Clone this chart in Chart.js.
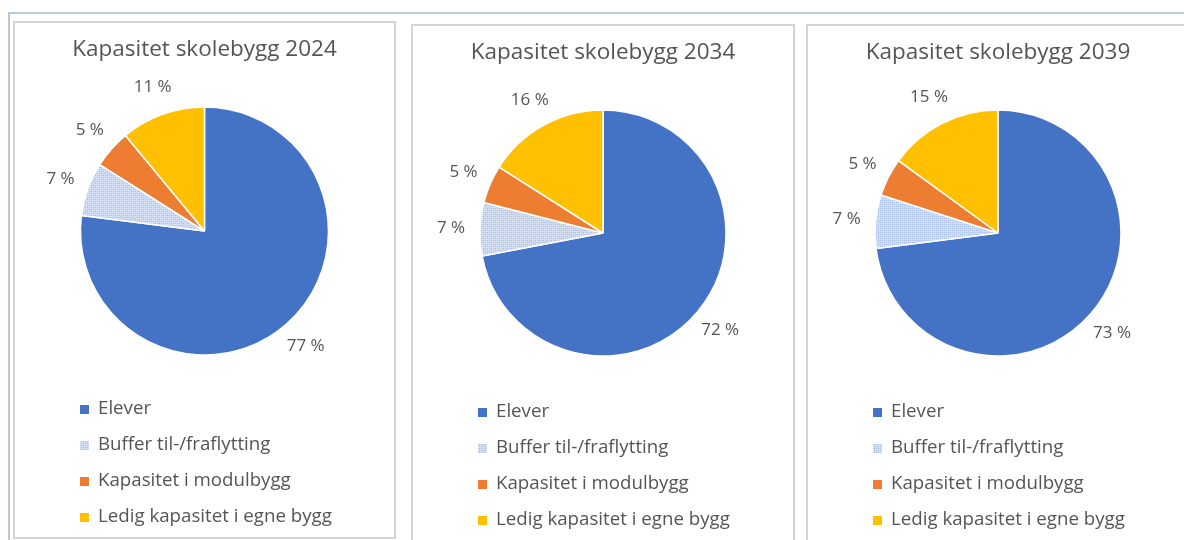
<!DOCTYPE html>
<html>
<head>
<meta charset="utf-8">
<script src="https://cdn.jsdelivr.net/npm/chart.js@4.4.1/dist/chart.umd.min.js"></script>
<style>
  body { margin: 0; width: 1184px; height: 540px; overflow: hidden; background: #fff; position: relative; }
  .frame { position: absolute; left: 8px; top: 12px; width: 1200px; height: 560px; border-top: 2px solid #b7c8dd; border-left: 2px solid #b7c8dd; }
  .panel { position: absolute; border: 2px solid #d4d4d4; background: #fff; }
  .panel canvas { display: block; }
</style>
</head>
<body>
<div class="frame"></div>
<div class="panel" style="left:13px; top:21px; width:379px; height:514px;"><canvas id="chart2024"></canvas></div>
<div class="panel" style="left:411px; top:24px; width:380px; height:514px;"><canvas id="chart2034"></canvas></div>
<div class="panel" style="left:806px; top:24px; width:380px; height:514px;"><canvas id="chart2039"></canvas></div>

<script>
// categories
const categories = ['Elever', 'Buffer til-/fraflytting', 'Kapasitet i modulbygg', 'Ledig kapasitet i egne bygg'];

// share of capacity in percent, per year
const values2024 = [77, 7, 5, 11];
const values2034 = [72, 7, 5, 16];
const values2039 = [73, 7, 5, 15];

const titles = ['Kapasitet skolebygg 2024', 'Kapasitet skolebygg 2034', 'Kapasitet skolebygg 2039'];

const textColor = '#555555';
const fontFamily = '"Open Sans", "Liberation Sans", sans-serif';

// dotted light blue fill for the buffer slice
function makeDots() {
  const c = document.createElement('canvas');
  c.width = 4; c.height = 4;
  const g = c.getContext('2d');
  g.fillStyle = '#d3def2';
  g.fillRect(0, 0, 4, 4);
  g.fillStyle = '#9db4e0';
  g.fillRect(0, 0, 1, 1);
  g.fillRect(2, 2, 1, 1);
  g.fillStyle = '#b9cbec';
  g.fillRect(2, 0, 1, 1);
  g.fillRect(0, 2, 1, 1);
  return g.createPattern(c, 'repeat');
}
const dots = makeDots();
const sliceColors = ['#4472c4', dots, '#ed7d31', '#ffc000'];

// percent labels outside each slice
const outsideLabels = {
  id: 'outsideLabels',
  afterDatasetsDraw(chart) {
    const ctx = chart.ctx;
    const meta = chart.getDatasetMeta(0);
    const data = chart.data.datasets[0].data;
    ctx.save();
    ctx.font = '17px ' + fontFamily;
    ctx.fillStyle = textColor;
    ctx.textAlign = 'center';
    ctx.textBaseline = 'middle';
    meta.data.forEach((arc, i) => {
      const p = arc.getProps(['x', 'y', 'startAngle', 'endAngle', 'outerRadius'], true);
      const mid = (p.startAngle + p.endAngle) / 2;
      const r = p.outerRadius + 29;
      ctx.fillText(data[i] + ' %', p.x + Math.cos(mid) * r, p.y + Math.sin(mid) * r);
    });
    ctx.restore();
  }
};

// vertical legend below the pie
const listLegend = {
  id: 'listLegend',
  afterDraw(chart) {
    const ctx = chart.ctx;
    const colors = chart.data.datasets[0].backgroundColor;
    ctx.save();
    ctx.font = '18.7px ' + fontFamily;
    ctx.textBaseline = 'middle';
    chart.data.labels.forEach((label, i) => {
      const y = 386 + i * 36;
      ctx.fillStyle = colors[i];
      ctx.fillRect(65, y - 4, 9, 9);
      ctx.fillStyle = textColor;
      ctx.fillText(label, 83, y);
    });
    ctx.restore();
  }
};

function makePie(id, title, values, radius, padBottom) {
  const ctx = document.getElementById(id).getContext('2d');
  new Chart(ctx, {
    type: 'pie',
    data: {
      labels: categories,
      datasets: [{
        data: values,
        backgroundColor: sliceColors,
        borderColor: '#ffffff',
        borderWidth: 1.5
      }]
    },
    options: {
      responsive: false,
      animation: false,
      radius: radius,
      layout: { padding: { top: 0, left: 0, right: 0, bottom: padBottom } },
      plugins: {
        legend: { display: false },
        tooltip: { enabled: false },
        title: {
          display: true,
          text: title,
          color: textColor,
          font: { family: fontFamily, size: 22.5, weight: 'normal', lineHeight: 1.2 },
          padding: { top: 13, bottom: 0 }
        }
      }
    },
    plugins: [outsideLabels, listLegend]
  });
}

function sizeCanvas(id, w, h) {
  const c = document.getElementById(id);
  c.width = w; c.height = h;
  c.style.width = w + 'px'; c.style.height = h + 'px';
}
sizeCanvas('chart2024', 379, 514);
sizeCanvas('chart2034', 380, 514);
sizeCanvas('chart2039', 380, 514);

makePie('chart2024', titles[0], values2024, 124, 138);
makePie('chart2034', titles[1], values2034, 123, 140);
makePie('chart2039', titles[2], values2039, 123, 140);
</script>
</body>
</html>
